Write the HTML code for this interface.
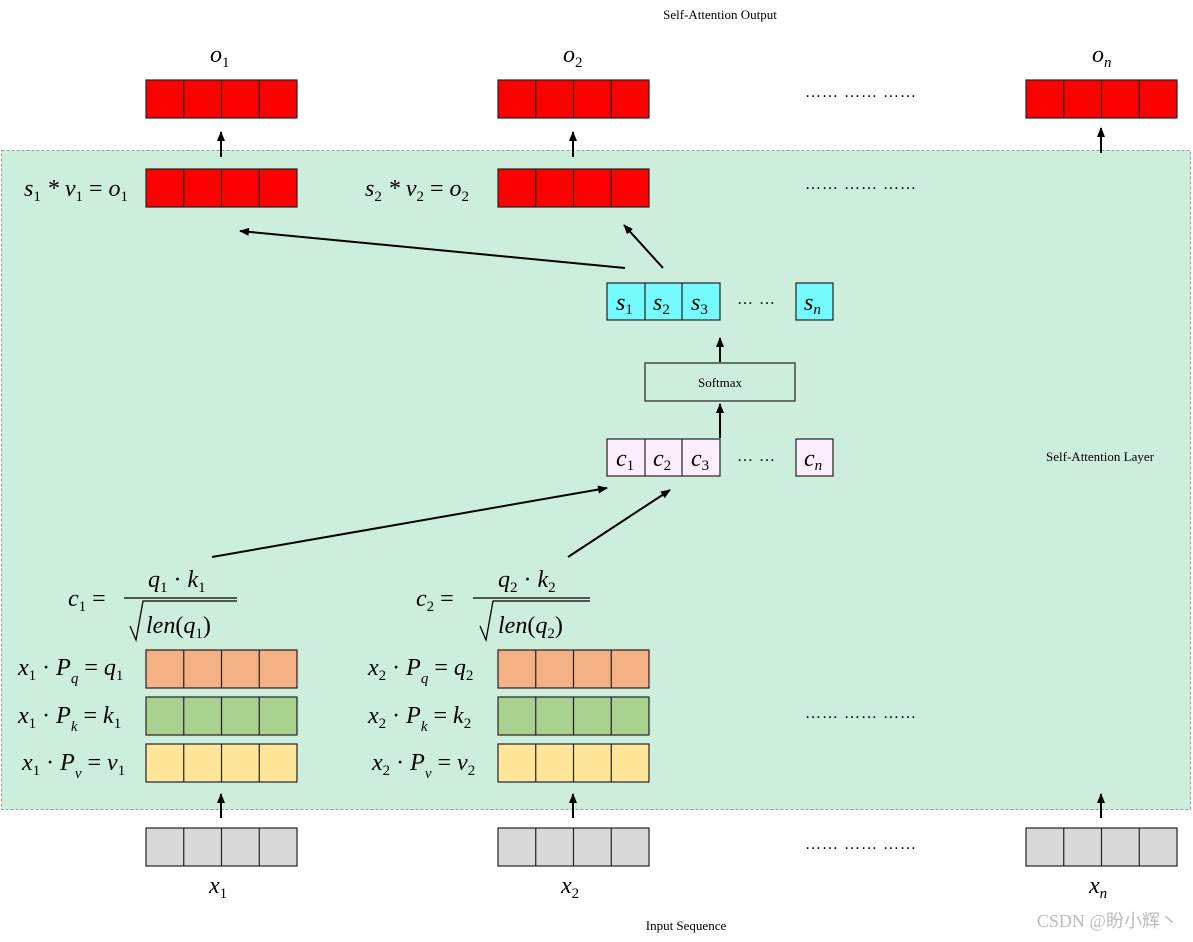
<!DOCTYPE html><html><head><style>body{margin:0;background:#fff}svg{display:block}text{font-family:"Liberation Serif",serif}</style></head><body>
<svg width="1193" height="942" viewBox="0 0 1193 942" xmlns="http://www.w3.org/2000/svg">
<defs><marker id="a" markerWidth="10" markerHeight="8" refX="9" refY="4" orient="auto" markerUnits="userSpaceOnUse"><path d="M0,0L10,4L0,8z" fill="#000"/></marker>
<g id="r4"><rect x="0" y="0" width="151" height="38" stroke="#222" stroke-width="1.2"/><path d="M37.75,0V38M75.5,0V38M113.25,0V38" stroke="#222" stroke-width="1.2"/></g></defs>
<rect x="1.5" y="150.5" width="1189" height="659" fill="#cdeedc" stroke="#999" stroke-dasharray="3,2"/>
<text x="720" y="19" font-size="13" text-anchor="middle">Self-Attention Output</text>
<text x="1100" y="461" font-size="13" text-anchor="middle">Self-Attention Layer</text>
<text x="686" y="930" font-size="13" text-anchor="middle">Input Sequence</text>
<text x="1178" y="927" font-size="18" fill="#bbb" text-anchor="end" font-family="Liberation Sans,Noto Sans CJK SC,sans-serif">CSDN @盼小辉丶</text>
<g font-style="italic" font-size="24">
<text x="210" y="62">o<tspan font-size="15" font-style="normal" dy="5">1</tspan></text>
<text x="563" y="62">o<tspan font-size="15" font-style="normal" dy="5">2</tspan></text>
<text x="1092" y="62">o<tspan font-size="15" font-style="italic" dy="5">n</tspan></text>
</g>
<g fill="#f00"><use href="#r4" x="146" y="80"/><use href="#r4" x="498" y="80"/><use href="#r4" x="1026" y="80"/><use href="#r4" x="146" y="169"/><use href="#r4" x="498" y="169"/></g>
<g fill="#f4b183"><use href="#r4" x="146" y="650"/><use href="#r4" x="498" y="650"/></g>
<g fill="#a9d18e"><use href="#r4" x="146" y="697"/><use href="#r4" x="498" y="697"/></g>
<g fill="#ffe699"><use href="#r4" x="146" y="744"/><use href="#r4" x="498" y="744"/></g>
<g fill="#d9d9d9"><use href="#r4" x="146" y="828"/><use href="#r4" x="498" y="828"/><use href="#r4" x="1026" y="828"/></g>
<g stroke="#222" stroke-width="1.2">
<rect x="607" y="283" width="113" height="37" fill="#75fbfd"/><path d="M645,283V320M682,283V320"/><rect x="796" y="283" width="37" height="37" fill="#75fbfd"/>
<rect x="607" y="439" width="113" height="37" fill="#fdeefd"/><path d="M645,439V476M682,439V476"/><rect x="796" y="439" width="37" height="37" fill="#fdeefd"/>
<rect x="645" y="363" width="150" height="38" fill="#cdeedc"/>
</g>
<text x="720" y="387" font-size="13" text-anchor="middle">Softmax</text>
<g font-style="italic" font-size="24">
<text x="616" y="310">s<tspan font-size="15" font-style="normal" dy="4">1</tspan></text>
<text x="653" y="310">s<tspan font-size="15" font-style="normal" dy="4">2</tspan></text>
<text x="691" y="310">s<tspan font-size="15" font-style="normal" dy="4">3</tspan></text>
<text x="804" y="310">s<tspan font-size="15" dy="4">n</tspan></text>
<text x="616" y="466">c<tspan font-size="15" font-style="normal" dy="4">1</tspan></text>
<text x="653" y="466">c<tspan font-size="15" font-style="normal" dy="4">2</tspan></text>
<text x="691" y="466">c<tspan font-size="15" font-style="normal" dy="4">3</tspan></text>
<text x="804" y="466">c<tspan font-size="15" dy="4">n</tspan></text>
<text x="24" y="196">s<tspan font-size="15" font-style="normal" dy="5">1</tspan><tspan dy="-5"> *</tspan> v<tspan font-size="15" font-style="normal" dy="5">1</tspan><tspan dy="-5" font-style="normal"> = </tspan>o<tspan font-size="15" font-style="normal" dy="5">1</tspan></text>
<text x="365" y="196">s<tspan font-size="15" font-style="normal" dy="5">2</tspan><tspan dy="-5"> *</tspan> v<tspan font-size="15" font-style="normal" dy="5">2</tspan><tspan dy="-5" font-style="normal"> = </tspan>o<tspan font-size="15" font-style="normal" dy="5">2</tspan></text>
<text x="18" y="675">x<tspan font-size="15" font-style="normal" dy="5">1</tspan><tspan dy="-5" font-style="normal"> · </tspan>P<tspan font-size="15" dy="8">q</tspan><tspan dy="-8" font-style="normal"> = </tspan>q<tspan font-size="15" font-style="normal" dy="5">1</tspan></text>
<text x="18" y="723">x<tspan font-size="15" font-style="normal" dy="5">1</tspan><tspan dy="-5" font-style="normal"> · </tspan>P<tspan font-size="15" dy="8">k</tspan><tspan dy="-8" font-style="normal"> = </tspan>k<tspan font-size="15" font-style="normal" dy="5">1</tspan></text>
<text x="22" y="770">x<tspan font-size="15" font-style="normal" dy="5">1</tspan><tspan dy="-5" font-style="normal"> · </tspan>P<tspan font-size="15" dy="8">v</tspan><tspan dy="-8" font-style="normal"> = </tspan>v<tspan font-size="15" font-style="normal" dy="5">1</tspan></text>
<text x="368" y="675">x<tspan font-size="15" font-style="normal" dy="5">2</tspan><tspan dy="-5" font-style="normal"> · </tspan>P<tspan font-size="15" dy="8">q</tspan><tspan dy="-8" font-style="normal"> = </tspan>q<tspan font-size="15" font-style="normal" dy="5">2</tspan></text>
<text x="368" y="723">x<tspan font-size="15" font-style="normal" dy="5">2</tspan><tspan dy="-5" font-style="normal"> · </tspan>P<tspan font-size="15" dy="8">k</tspan><tspan dy="-8" font-style="normal"> = </tspan>k<tspan font-size="15" font-style="normal" dy="5">2</tspan></text>
<text x="372" y="770">x<tspan font-size="15" font-style="normal" dy="5">2</tspan><tspan dy="-5" font-style="normal"> · </tspan>P<tspan font-size="15" dy="8">v</tspan><tspan dy="-8" font-style="normal"> = </tspan>v<tspan font-size="15" font-style="normal" dy="5">2</tspan></text>
<text x="68" y="606">c<tspan font-size="15" font-style="normal" dy="5">1</tspan><tspan dy="-5" font-style="normal"> =</tspan></text>
<text x="148" y="587">q<tspan font-size="15" font-style="normal" dy="5">1</tspan><tspan dy="-5" font-style="normal"> · </tspan>k<tspan font-size="15" font-style="normal" dy="5">1</tspan></text>
<text x="146" y="633">len<tspan font-style="normal">(</tspan>q<tspan font-size="15" font-style="normal" dy="5">1</tspan><tspan dy="-5" font-style="normal">)</tspan></text>
<text x="416" y="606">c<tspan font-size="15" font-style="normal" dy="5">2</tspan><tspan dy="-5" font-style="normal"> =</tspan></text>
<text x="498" y="587">q<tspan font-size="15" font-style="normal" dy="5">2</tspan><tspan dy="-5" font-style="normal"> · </tspan>k<tspan font-size="15" font-style="normal" dy="5">2</tspan></text>
<text x="498" y="633">len<tspan font-style="normal">(</tspan>q<tspan font-size="15" font-style="normal" dy="5">2</tspan><tspan dy="-5" font-style="normal">)</tspan></text>
<text x="209" y="893">x<tspan font-size="15" font-style="normal" dy="5">1</tspan></text>
<text x="561" y="893">x<tspan font-size="15" font-style="normal" dy="5">2</tspan></text>
<text x="1089" y="893">x<tspan font-size="15" dy="5">n</tspan></text>
</g>
<g stroke="#000" stroke-width="1.3" fill="none">
<path d="M124,598H237M130,626L136,640L143,601H237"/>
<path d="M473,598H590M480,626L486,640L493,601H590"/>
</g>
<g font-size="16" letter-spacing="1">
<text x="805" y="97">…… …… ……</text><text x="805" y="189">…… …… ……</text><text x="805" y="718">…… …… ……</text><text x="805" y="849">…… …… ……</text>
<text x="737" y="304">…  …</text><text x="737" y="461">…  …</text>
</g>
<g stroke="#000" stroke-width="2" marker-end="url(#a)">
<line x1="221" y1="157" x2="221" y2="132"/><line x1="573" y1="157" x2="573" y2="132"/><line x1="1101" y1="153" x2="1101" y2="128"/>
<line x1="221" y1="818" x2="221" y2="794"/><line x1="573" y1="818" x2="573" y2="794"/><line x1="1101" y1="818" x2="1101" y2="794"/>
<line x1="720" y1="362" x2="720" y2="338"/><line x1="720" y1="438" x2="720" y2="404"/>
<line x1="625" y1="268" x2="240" y2="231"/><line x1="663" y1="268" x2="624" y2="225"/>
<line x1="212" y1="557" x2="607" y2="488"/><line x1="568" y1="557" x2="670" y2="490"/>
</g>
</svg></body></html>
